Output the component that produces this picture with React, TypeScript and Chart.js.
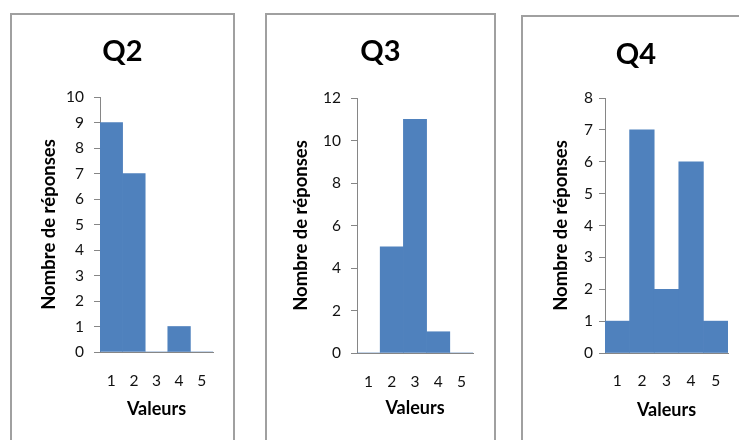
import React, { useEffect, useRef } from "react";
import { Chart, registerables } from "chart.js";

Chart.register(...registerables);

// ---- data ----
const categories = ["1", "2", "3", "4", "5"];
const q2Values = [9, 7, 0, 1, 0];
const q3Values = [0, 5, 11, 1, 0];
const q4Values = [1, 7, 2, 6, 1];
const titles = ["Q2", "Q3", "Q4"];
const yMax = [10, 12, 8];
const yStep = [1, 2, 1];
const yAxisTitle = "Nombre de réponses";
const xAxisTitle = "Valeurs";

// ---- layout (page coordinates) ----
const PAGE_H = 440;
const FONT = "Lato, 'Open Sans', sans-serif";
const BAR = "#4F81BD";
const AXIS = "#868686";

type Layout = {
  left: number; top: number; width: number;
  plot: { left: number; right: number; top: number; bottom: number };
  titleY: number; yTitleX: number; tickLabelRight: number; xLabelY: number; xTitleY: number;
};

const layouts: Layout[] = [
  { left: 10, top: 13, width: 225, plot: { left: 100, right: 213, top: 97, bottom: 352 }, titleY: 51.5, yTitleX: 49, tickLabelRight: 84, xLabelY: 381, xTitleY: 409 },
  { left: 265, top: 13, width: 231, plot: { left: 357, right: 473, top: 98, bottom: 353 }, titleY: 52, yTitleX: 301, tickLabelRight: 341, xLabelY: 382, xTitleY: 408.5 },
  { left: 521, top: 15, width: 230, plot: { left: 605, right: 728, top: 98, bottom: 353 }, titleY: 55, yTitleX: 561, tickLabelRight: 593, xLabelY: 381, xTitleY: 410 },
];

const TITLE_SIZE = 29;
const Y_TITLE_SIZE = 18.5;
const X_TITLE_SIZE = 18;
const TICK_SIZE = 15.5;
const TICK_LEN = 6;
const LH = 1.2;

function Panel({ idx, values }: { idx: number; values: number[] }) {
  const ref = useRef<HTMLCanvasElement | null>(null);
  const L = layouts[idx];
  const cLeft = L.left + 2;
  const cTop = L.top + 2;
  const cW = L.width - 4;
  const cH = PAGE_H - cTop;

  useEffect(() => {
    if (!ref.current) return;
    const R = cLeft + cW - L.plot.right;
    const yAxisWidth = L.plot.left - cLeft - R;
    const xAxisHeight = PAGE_H - L.plot.bottom;
    const titleLH = TITLE_SIZE * LH;
    const titlePadTop = L.titleY - cTop - titleLH / 2;
    const titlePadBottom = L.plot.top - cTop - titlePadTop - titleLH;
    const yTitlePad = L.yTitleX - (cLeft + R) - (Y_TITLE_SIZE * LH) / 2;
    const yTickPad = L.plot.left - TICK_LEN - L.tickLabelRight;
    const xTickPad = L.xLabelY - L.plot.bottom - (TICK_SIZE * LH) / 2;
    const xTitlePadBottom = PAGE_H - L.xTitleY - (X_TITLE_SIZE * LH) / 2;

    const chart = new Chart(ref.current, {
      type: "bar",
      data: {
        labels: categories,
        datasets: [{ data: values, backgroundColor: BAR, borderWidth: 0, barPercentage: 1, categoryPercentage: 1 }],
      },
      options: {
        animation: false,
        responsive: false,
        devicePixelRatio: 1,
        layout: { padding: { left: R, right: R, top: 0, bottom: 0 } },
        plugins: {
          legend: { display: false },
          tooltip: { enabled: false },
          title: {
            display: true,
            text: titles[idx],
            color: "#000",
            font: { family: FONT, size: TITLE_SIZE, weight: "bold", lineHeight: LH },
            padding: { top: titlePadTop, bottom: titlePadBottom },
          },
        },
        scales: {
          x: {
            offset: true,
            grid: { display: true, drawOnChartArea: false, drawTicks: false },
            border: { display: true, color: AXIS, width: 1 },
            ticks: { color: "#111", padding: xTickPad, font: { family: FONT, size: TICK_SIZE, lineHeight: LH } },
            title: {
              display: true, text: xAxisTitle, color: "#000",
              font: { family: FONT, size: X_TITLE_SIZE, weight: "bold", lineHeight: LH },
              padding: { top: 0, bottom: xTitlePadBottom },
            },
            afterFit: (s: any) => { s.height = xAxisHeight; },
          },
          y: {
            min: 0, max: yMax[idx],
            grid: { display: true, drawOnChartArea: false, drawTicks: true, tickLength: TICK_LEN, color: AXIS },
            border: { display: true, color: AXIS, width: 1 },
            ticks: { stepSize: yStep[idx], color: "#111", padding: yTickPad, font: { family: FONT, size: TICK_SIZE, lineHeight: LH } },
            title: {
              display: true, text: yAxisTitle, color: "#000",
              font: { family: FONT, size: Y_TITLE_SIZE, weight: "bold", lineHeight: LH },
              padding: { top: yTitlePad, bottom: 0 },
            },
            afterFit: (s: any) => { s.width = yAxisWidth; },
          },
        },
      } as any,
    });
    return () => chart.destroy();
  }, []);

  return (
    <>
      <div style={{ position: "absolute", left: L.left, top: L.top, width: L.width, height: PAGE_H - L.top + 20, border: "2px solid #a0a0a0", boxSizing: "border-box" }} />
      <canvas ref={ref} width={cW} height={cH} style={{ position: "absolute", left: cLeft, top: cTop, width: cW, height: cH }} />
    </>
  );
}

export default function App() {
  return (
    <div style={{ position: "fixed", left: 0, top: 0, width: 739, height: PAGE_H, overflow: "hidden", background: "#fff" }}>
      <Panel idx={0} values={q2Values} />
      <Panel idx={1} values={q3Values} />
      <Panel idx={2} values={q4Values} />
    </div>
  );
}
